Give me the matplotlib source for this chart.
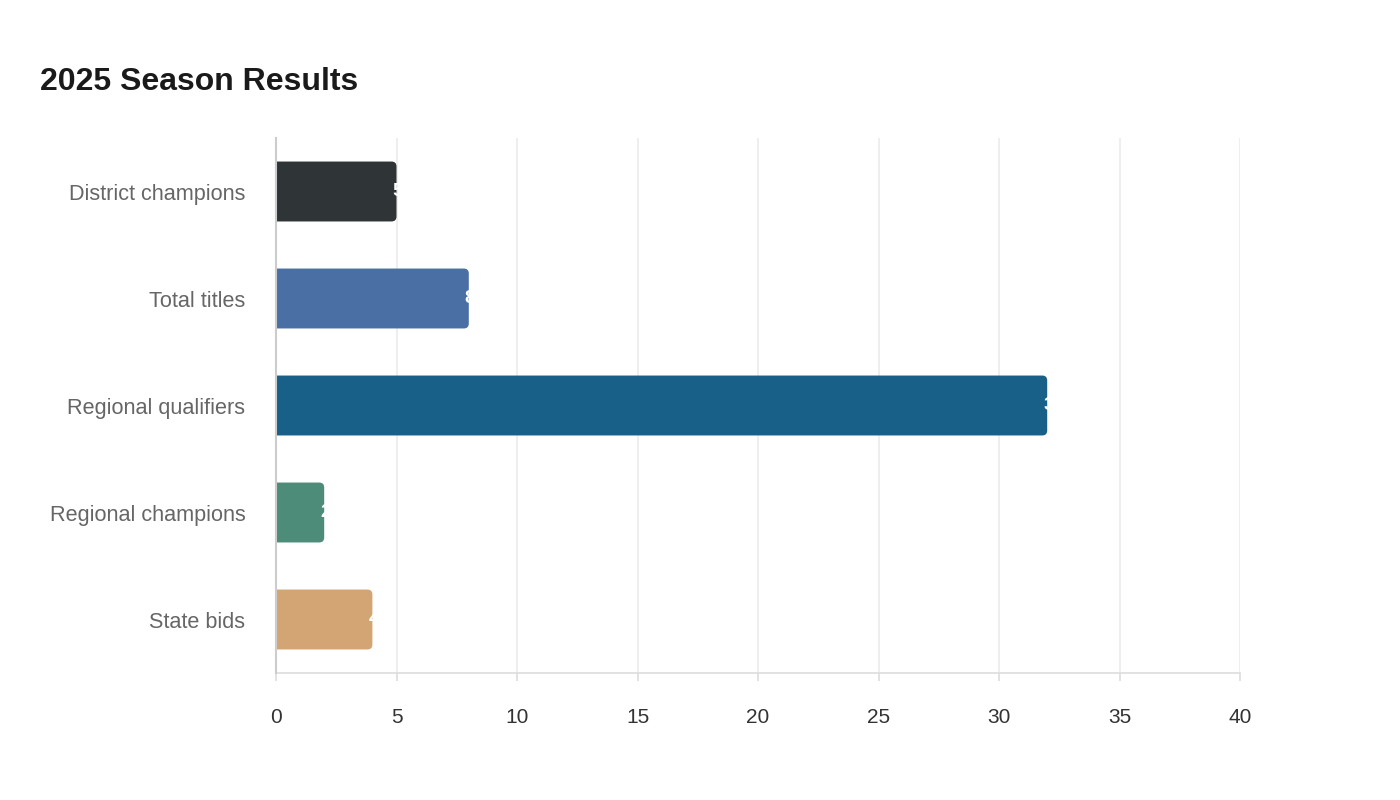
import matplotlib.pyplot as plt
from matplotlib.patches import FancyBboxPatch

plt.rcParams['font.family'] = ['Liberation Sans', 'DejaVu Sans']

categories = ['District champions', 'Total titles', 'Regional qualifiers',
              'Regional champions', 'State bids']
values = [5, 8, 32, 2, 4]
colors = ['#2f3437', '#4a6fa5', '#186087', '#4e8c7a', '#d4a574']
x_ticks = [0, 5, 10, 15, 20, 25, 30, 35, 40]

fig = plt.figure(figsize=(14, 8), dpi=100)
ax = fig.add_axes([276 / 1400, 1 - 673 / 800, 964 / 1400, 535 / 800])

ax.set_xlim(0, 40)
ax.set_ylim(len(categories) - 0.5, -0.5)

# pixel -> data conversions for rounded corners
x_per_px = 40 / 964
y_per_px = len(categories) / 535
bar_h = 0.56

for i, (v, c) in enumerate(zip(values, colors)):
    r = 5 * x_per_px
    p = FancyBboxPatch((-0.5, i - bar_h / 2), v + 0.5, bar_h,
                       boxstyle=f"round,pad=0,rounding_size={r}",
                       mutation_aspect=y_per_px / x_per_px,
                       facecolor=c, edgecolor='none', zorder=3, clip_on=True)
    ax.add_patch(p)
    # value label starts near the bar end; the part outside is white on white
    ax.text(v - 4 * x_per_px, i, str(v), color='white', fontsize=14,
            fontweight='bold', ha='left', va='center', zorder=4)

ax.set_yticks(range(len(categories)))
ax.set_yticklabels(categories, fontsize=15.6, color='#666666')
ax.tick_params(axis='y', length=0, pad=22)

ax.set_xticks(x_ticks)
ax.set_xticklabels([str(t) for t in x_ticks], fontsize=15, color='#333333')
ax.tick_params(axis='x', length=6, color='#dddddd', width=1.2, pad=19)

ax.grid(axis='x', color='#ebebeb', linewidth=1.2, zorder=0)
ax.set_axisbelow(True)

for s in ['top', 'right']:
    ax.spines[s].set_visible(False)
ax.spines['left'].set_color('#cccccc')
ax.spines['left'].set_linewidth(1.5)
ax.spines['left'].set_zorder(5)
ax.spines['bottom'].set_color('#dddddd')
ax.spines['bottom'].set_linewidth(1.2)

fig.text(40 / 1400, 1 - 82 / 800, '2025 Season Results', fontsize=23,
         fontweight='bold', color='#1a1a1a', ha='left', va='center')

fig.savefig('out.png', dpi=100, facecolor='white')
